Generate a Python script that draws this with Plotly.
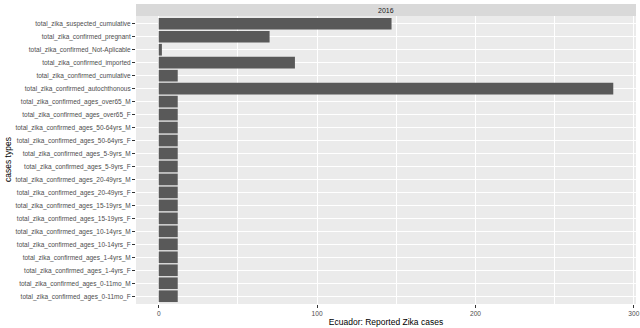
import plotly.graph_objects as go

categories = [
    "total_zika_confirmed_ages_0-11mo_F",
    "total_zika_confirmed_ages_0-11mo_M",
    "total_zika_confirmed_ages_1-4yrs_F",
    "total_zika_confirmed_ages_1-4yrs_M",
    "total_zika_confirmed_ages_10-14yrs_F",
    "total_zika_confirmed_ages_10-14yrs_M",
    "total_zika_confirmed_ages_15-19yrs_F",
    "total_zika_confirmed_ages_15-19yrs_M",
    "total_zika_confirmed_ages_20-49yrs_F",
    "total_zika_confirmed_ages_20-49yrs_M",
    "total_zika_confirmed_ages_5-9yrs_F",
    "total_zika_confirmed_ages_5-9yrs_M",
    "total_zika_confirmed_ages_50-64yrs_F",
    "total_zika_confirmed_ages_50-64yrs_M",
    "total_zika_confirmed_ages_over65_F",
    "total_zika_confirmed_ages_over65_M",
    "total_zika_confirmed_autochthonous",
    "total_zika_confirmed_cumulative",
    "total_zika_confirmed_imported",
    "total_zika_confirmed_Not-Aplicable",
    "total_zika_confirmed_pregnant",
    "total_zika_suspected_cumulative",
]
values = [12, 12, 12, 12, 12, 12, 12, 12, 12, 12, 12, 12, 12, 12, 12, 12,
          287, 12, 86, 2, 70, 147]
facet_label = "2016"
x_title = "Ecuador: Reported Zika cases"
y_title = "cases types"

FONT = "Liberation Sans, Arial, sans-serif"

fig = go.Figure(go.Bar(
    x=values, y=categories, orientation="h",
    marker=dict(color="#595959", line=dict(width=0)),
    width=0.9,
))

vmax = max(values)
pad = 0.05 * vmax
top = 288 / 300

fig.update_layout(
    width=640, height=328,
    margin=dict(l=136, r=4, t=4, b=24),
    paper_bgcolor="white",
    plot_bgcolor="#EBEBEB",
    showlegend=False,
    font=dict(family=FONT, size=7, color="#4D4D4D"),
    xaxis=dict(
        range=[-pad, vmax + pad],
        tickvals=[0, 100, 200, 300],
        showgrid=True, gridcolor="white", gridwidth=1,
        minor=dict(tickvals=[50, 150, 250], showgrid=True, gridcolor="white", gridwidth=0.5, ticks=""),
        zeroline=False,
        ticks="outside", ticklen=3, tickcolor="#333333", tickwidth=1,
        tickfont=dict(size=6.6, color="#4D4D4D"),
        title=dict(text=x_title, font=dict(size=8.5, color="black"), standoff=3),
        showline=False,
        automargin=False,
    ),
    yaxis=dict(
        type="category",
        categoryorder="array", categoryarray=categories,
        range=[-0.6, len(categories) - 1 + 0.6],
        domain=[0, top],
        showgrid=True, gridcolor="white", gridwidth=1,
        ticks="outside", ticklen=3, tickcolor="#333333", tickwidth=1,
        tickfont=dict(size=6.5, color="#4D4D4D"),
        showline=False,
        zeroline=False,
        automargin=False,
    ),
    shapes=[dict(
        type="rect", xref="paper", yref="paper",
        x0=0, x1=1, y0=top, y1=1,
        fillcolor="#D9D9D9", line=dict(width=0), layer="below",
    )],
    annotations=[
        dict(
            text=facet_label, xref="paper", yref="paper",
            x=0.5, y=(top + 1) / 2, showarrow=False,
            font=dict(size=7, color="#1A1A1A"), yanchor="middle",
        ),
        dict(
            text=y_title, xref="paper", yref="paper",
            x=0, xshift=-128, y=top / 2, showarrow=False, textangle=-90,
            font=dict(size=8.5, color="black"), xanchor="center", yanchor="middle",
        ),
    ],
    bargap=0.1,
)

fig.write_html("out.html")
